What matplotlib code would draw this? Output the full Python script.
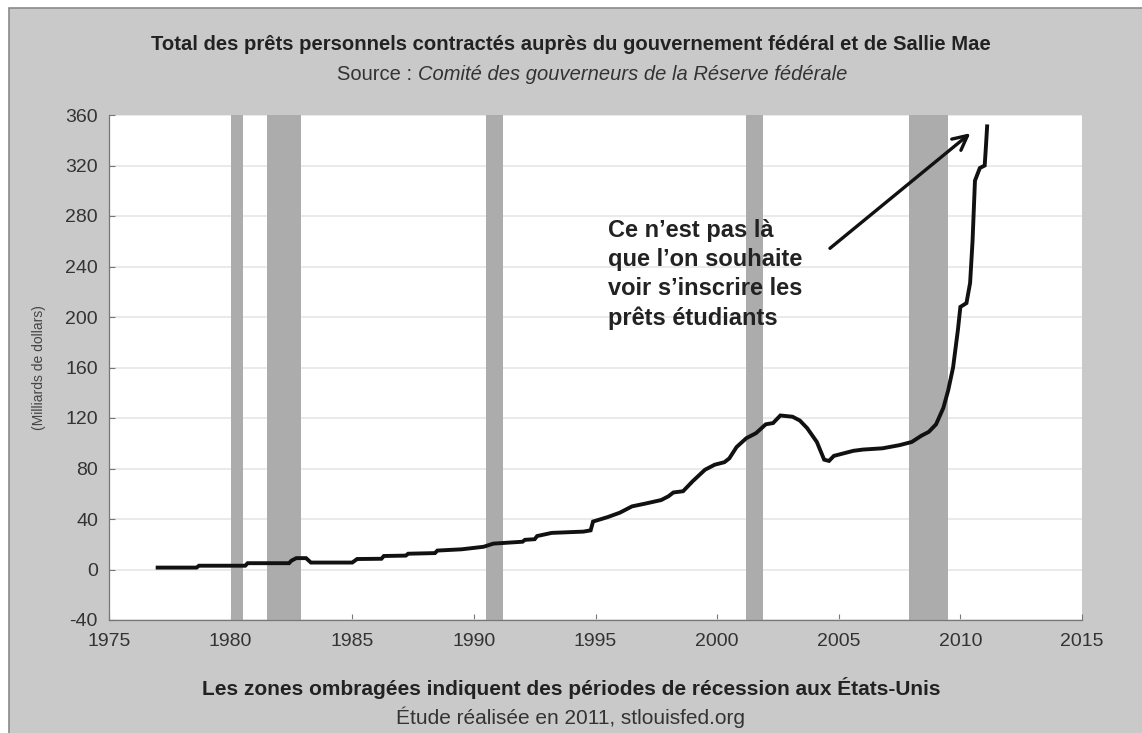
import matplotlib.pyplot as plt
from matplotlib.patches import Rectangle
from matplotlib.ticker import FuncFormatter

# --- data (billions of dollars) ---
years = [1977.0, 1978.6, 1978.7, 1980.6, 1980.7, 1982.4, 1982.5, 1982.7, 1983.1, 1983.3,
         1985.0, 1985.2, 1986.2, 1986.3, 1987.2, 1987.3, 1988.4, 1988.5, 1989.5, 1990.4,
         1990.8, 1992.0, 1992.1, 1992.5, 1992.6, 1993.2, 1994.5, 1994.8, 1994.9, 1995.5,
         1996.0, 1996.5, 1997.0, 1997.7, 1998.0, 1998.2, 1998.6, 1999.0, 1999.5, 1999.9,
         2000.3, 2000.5, 2000.8, 2001.2, 2001.6, 2002.0, 2002.3, 2002.6, 2003.1, 2003.4,
         2003.7, 2004.1, 2004.4, 2004.6, 2004.8, 2005.0, 2005.6, 2006.0, 2006.8, 2007.5,
         2008.0, 2008.4, 2008.7, 2009.0, 2009.3, 2009.5, 2009.7, 2009.9, 2010.0, 2010.25,
         2010.4, 2010.5, 2010.6, 2010.8, 2011.0, 2011.05, 2011.1]
loans = [1.5, 1.5, 3, 3, 5, 5, 7, 9, 9, 5.5,
         5.5, 8.3, 8.5, 10.7, 11, 12.5, 13, 15, 16, 18,
         20.5, 22, 23.5, 24, 26.5, 29, 30, 31, 38, 41.5,
         45, 50, 52, 55, 58, 61, 62, 70, 79, 83,
         85, 88, 97, 104, 108, 115, 116, 122, 121, 118,
         112, 101, 87, 86, 90, 91, 94, 95, 96, 98.5,
         101, 106, 109, 115, 128, 142, 160, 190, 208, 211,
         227, 260, 308, 318, 320, 335, 351]

recessions = [(1980.0, 1980.5), (1981.5, 1982.9), (1990.5, 1991.2),
              (2001.2, 2001.9), (2007.9, 2009.5)]

x_ticks = [1975, 1980, 1985, 1990, 1995, 2000, 2005, 2010, 2015]
y_ticks = [-40, 0, 40, 80, 120, 160, 200, 240, 280, 320, 360]

title = "Total des prêts personnels contractés auprès du gouvernement fédéral et de Sallie Mae"
subtitle_plain = "Source : "
subtitle_it = "Comité des gouverneurs de la Réserve fédérale"
bottom1 = "Les zones ombragées indiquent des périodes de récession aux États-Unis"
bottom2 = "Étude réalisée en 2011, stlouisfed.org"
note = "Ce n’est pas là\nque l’on souhaite\nvoir s’inscrire les\nprêts étudiants"

plt.rcParams['font.family'] = ['Liberation Sans', 'DejaVu Sans']

panel = '#c9c9c9'
W, H = 1142, 733
fig = plt.figure(figsize=(W / 100, H / 100), dpi=100, facecolor='white')

# grey panel behind everything
fig.patches.append(Rectangle((9 / W, -0.01), 1.01, 1 - 8 / H + 0.01, transform=fig.transFigure,
                             facecolor=panel, edgecolor='#8a8a8a', linewidth=1.2, zorder=-5))

ax = fig.add_axes([109 / W, (H - 620) / H, (1082 - 109) / W, (620 - 115) / H])
ax.set_zorder(2)
ax.set_facecolor('white')

for a, b in recessions:
    ax.axvspan(a, b, color='#acacac', lw=0, zorder=1)

ax.set_yticks(y_ticks)
ax.set_xticks(x_ticks)
ax.set_xlim(1975, 2015)
ax.set_ylim(-40, 360)
ax.yaxis.set_major_formatter(FuncFormatter(lambda v, p: "%d" % v))
ax.grid(axis='y', color='#e6e6e6', lw=1.2, zorder=0)
ax.set_axisbelow(True)

ax.plot(years, loans, color='#111111', lw=2.8, solid_joinstyle='miter', zorder=3)

for s in ['top', 'right']:
    ax.spines[s].set_visible(False)
for s in ['left', 'bottom']:
    ax.spines[s].set_color('#777777')
    ax.spines[s].set_linewidth(0.9)

ax.tick_params(direction='in', length=4, width=0.8, color='#777777',
               labelsize=14, labelcolor='#333333')
ax.tick_params(axis='x', pad=9)
ax.tick_params(axis='y', pad=8)

ax.set_ylabel("(Milliards de dollars)", fontsize=10, color='#444444', labelpad=14)

# annotation
ax.text(1995.5, 278, note, fontsize=17, fontweight='bold', color='#222222',
        va='top', ha='left', linespacing=1.35, zorder=4)
ax.annotate('', xy=(2010.5, 347), xytext=(2004.55, 253),
            arrowprops=dict(arrowstyle='->', color='#111111', lw=2.4, mutation_scale=26),
            zorder=4)

# titles
fig.text(0.5, 1 - 45 / H, title, ha='center', va='center', fontsize=14.6,
         fontweight='bold', color='#222222')
fig.text(418 / W, 1 - 75 / H, subtitle_plain, ha='right', va='center', fontsize=14.5,
         color='#333333')
fig.text(418 / W, 1 - 75 / H, subtitle_it, ha='left', va='center', fontsize=14.5,
         color='#333333', style='italic')
fig.text(0.5, 1 - 688 / H, bottom1, ha='center', va='center', fontsize=15,
         fontweight='bold', color='#222222')
fig.text(0.5, 1 - 717 / H, bottom2, ha='center', va='center', fontsize=15,
         color='#333333')

fig.savefig('out.png', dpi=100, facecolor=fig.get_facecolor())
